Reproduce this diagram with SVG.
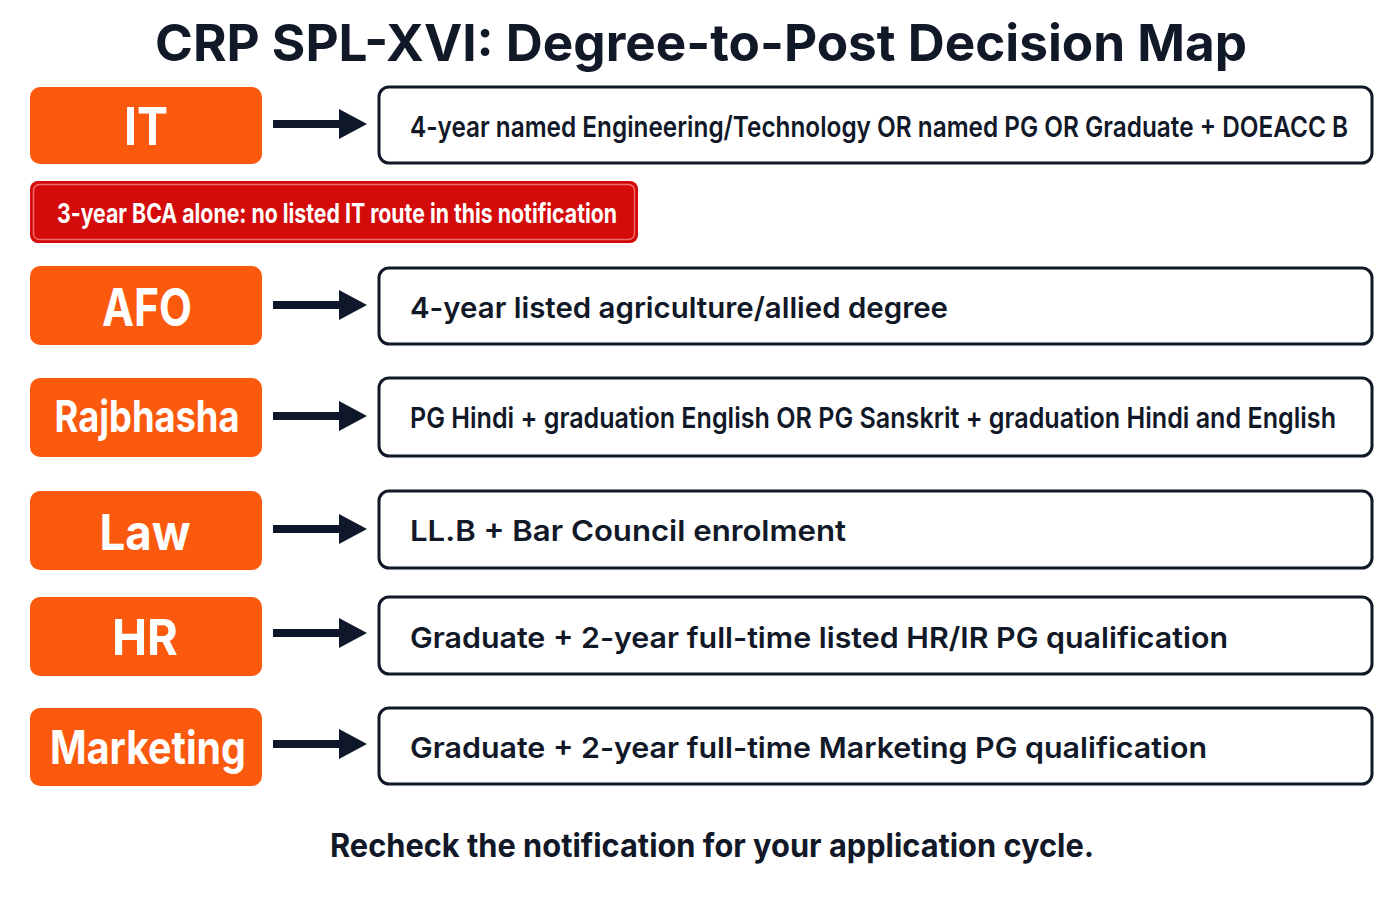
<svg xmlns="http://www.w3.org/2000/svg" width="1400" height="900" viewBox="0 0 1400 900">
<defs>
<marker id="ah" markerWidth="28" markerHeight="30" refX="2" refY="15" orient="auto" markerUnits="userSpaceOnUse" viewBox="0 0 28 30">
<path d="M0,0 L28,15 L0,30 z" fill="#0f172a"/>
</marker>
<style>
.title{font-family:Inter,"Liberation Sans",sans-serif;font-weight:700;font-size:51px;fill:#111827}
.post rect{fill:#fb5a0e}
.post text{font-family:Inter,"Liberation Sans",sans-serif;font-weight:700;fill:#ffffff;text-anchor:middle}
.req rect{fill:#ffffff;stroke:#111827;stroke-width:3}
.req text{font-family:Inter,"Liberation Sans",sans-serif;font-weight:600;fill:#111827;font-size:29px}
.conn line{stroke:#0f172a;stroke-width:8}
.foot{font-family:Inter,"Liberation Sans",sans-serif;font-weight:700;font-size:32px;fill:#111827;text-anchor:middle}
</style>
</defs>
<rect width="1400" height="900" fill="#ffffff"/>
<text class="title" x="701" y="61" text-anchor="middle" textLength="1092" lengthAdjust="spacingAndGlyphs">CRP SPL-XVI: Degree-to-Post Decision Map</text>

<g id="post-it" class="post"><rect x="30" y="87" width="232" height="77" rx="10"/><text x="146" y="145" font-size="52" textLength="44" lengthAdjust="spacingAndGlyphs">IT</text></g>
<g id="req-it" class="req"><rect x="379" y="87" width="993" height="76" rx="10"/><text x="410" y="137" font-size="28" textLength="938" lengthAdjust="spacingAndGlyphs">4-year named Engineering/Technology OR named PG OR Graduate + DOEACC B</text></g>

<g id="warn-bca"><rect x="30" y="181" width="608" height="62" rx="8" fill="#d30b0b"/><rect x="33.5" y="184.5" width="601" height="55" rx="6" fill="none" stroke="#f26a6a" stroke-width="1.5"/><text x="57" y="223" font-family="Inter,'Liberation Sans',sans-serif" font-weight="700" font-size="27" fill="#ffffff" textLength="560" lengthAdjust="spacingAndGlyphs">3-year BCA alone: no listed IT route in this notification</text></g>

<g id="post-afo" class="post"><rect x="30" y="266" width="232" height="79" rx="10"/><text x="147" y="326" font-size="52" textLength="90" lengthAdjust="spacingAndGlyphs">AFO</text></g>
<g id="req-afo" class="req"><rect x="379" y="268" width="993" height="76" rx="10"/><text x="410" y="318" font-size="30" textLength="538" lengthAdjust="spacingAndGlyphs">4-year listed agriculture/allied degree</text></g>

<g id="post-raj" class="post"><rect x="30" y="378" width="232" height="79" rx="10"/><text x="147" y="432" font-size="44" textLength="185" lengthAdjust="spacingAndGlyphs">Rajbhasha</text></g>
<g id="req-raj" class="req"><rect x="379" y="378" width="993" height="78" rx="10"/><text x="410" y="428" font-size="28" textLength="926" lengthAdjust="spacingAndGlyphs">PG Hindi + graduation English OR PG Sanskrit + graduation Hindi and English</text></g>

<g id="post-law" class="post"><rect x="30" y="491" width="232" height="79" rx="10"/><text x="145" y="550" font-size="50" textLength="91" lengthAdjust="spacingAndGlyphs">Law</text></g>
<g id="req-law" class="req"><rect x="379" y="491" width="993" height="77" rx="10"/><text x="410" y="541" font-size="31" textLength="436" lengthAdjust="spacingAndGlyphs">LL.B + Bar Council enrolment</text></g>

<g id="post-hr" class="post"><rect x="30" y="597" width="232" height="79" rx="10"/><text x="145" y="655" font-size="50" textLength="66" lengthAdjust="spacingAndGlyphs">HR</text></g>
<g id="req-hr" class="req"><rect x="379" y="597" width="993" height="77" rx="10"/><text x="410" y="648" font-size="31" textLength="818" lengthAdjust="spacingAndGlyphs">Graduate + 2-year full-time listed HR/IR PG qualification</text></g>

<g id="post-mkt" class="post"><rect x="30" y="708" width="232" height="78" rx="10"/><text x="148" y="764" font-size="46" textLength="196" lengthAdjust="spacingAndGlyphs">Marketing</text></g>
<g id="req-mkt" class="req"><rect x="379" y="708" width="993" height="76" rx="10"/><text x="410" y="758" font-size="31" textLength="797" lengthAdjust="spacingAndGlyphs">Graduate + 2-year full-time Marketing PG qualification</text></g>

<g id="connectors" class="conn">
<line x1="273" y1="124" x2="341" y2="124" marker-end="url(#ah)"/>
<line x1="273" y1="305" x2="341" y2="305" marker-end="url(#ah)"/>
<line x1="273" y1="416" x2="341" y2="416" marker-end="url(#ah)"/>
<line x1="273" y1="529" x2="341" y2="529" marker-end="url(#ah)"/>
<line x1="273" y1="633" x2="341" y2="633" marker-end="url(#ah)"/>
<line x1="273" y1="744" x2="341" y2="744" marker-end="url(#ah)"/>
</g>

<text class="foot" x="712" y="857" textLength="764" lengthAdjust="spacingAndGlyphs">Recheck the notification for your application cycle.</text>
</svg>
